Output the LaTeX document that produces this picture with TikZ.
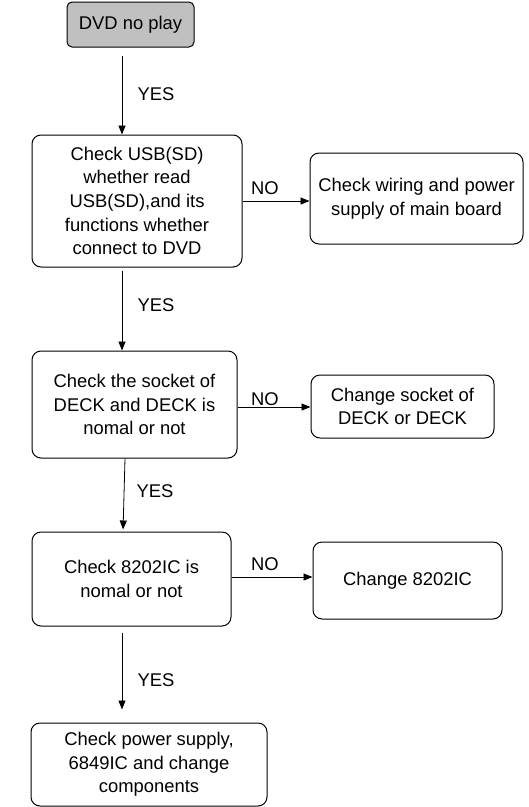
\documentclass[tikz,border=0pt]{standalone}
\usepackage{fontspec}
\setmainfont{Liberation Sans}
\usetikzlibrary{arrows.meta,calc,positioning}

\definecolor{startgray}{RGB}{192,192,192}
\tikzset{
  box/.style={draw, rounded corners=9pt, line width=1pt, align=center, inner sep=2pt,
    font=\fontsize{18.4}{23.7}\selectfont},
  flow/.style={-{Triangle[length=9pt,width=7pt]}, line width=0.8pt},
  lbl/.style={inner sep=0pt, font=\fontsize{18.4}{22}\selectfont}
}

\begin{document}
\begin{tikzpicture}[x=1pt,y=-1pt,line join=round]
\useasboundingbox (0,0) rectangle (529,807);
% boxes
\node[box,fill=startgray,rounded corners=5pt,minimum width=127pt,minimum height=45pt] (b1) at (130.5,24.5) {DVD no play};
\node[box,minimum width=210pt,minimum height=132pt] (b2) at (137,201) {Check USB(SD)\\whether read\\USB(SD),and its\\functions whether\\connect to DVD};
\node[box,minimum width=213pt,minimum height=91pt] (b3) at (416.5,198.5) {Check wiring and power\\supply of main board};
\node[box,minimum width=205pt,minimum height=107pt] (b4) at (134.5,404.5) {Check the socket of\\DECK and DECK is\\nomal or not};
\node[box,minimum width=183pt,minimum height=63pt] (b5) at (402.5,406.5) {Change socket of\\DECK or DECK};
\node[box,minimum width=199pt,minimum height=94pt] (b6) at (131.5,579) {Check 8202IC is\\nomal or not};
\node[box,minimum width=189pt,minimum height=77pt] (b7) at (407.5,580.5) {Change 8202IC};
\node[box,minimum width=236pt,minimum height=83pt] (b8) at (149,764.5) {Check power supply,\\6849IC and change\\components};
% arrows down
\coordinate (s1) at ([xshift=-8.5pt]b1.south);
\coordinate (s2) at ([xshift=-15pt]b2.south);
\coordinate (s3) at ([xshift=-9.5pt]b4.south);
\coordinate (e3) at ([xshift=-8.5pt]b6.north);
\coordinate (s4) at ([xshift=-9.5pt]b6.south);
\draw[flow,shorten <=8pt] (s1) -- (s1 |- b2.north);
\draw[flow,shorten <=3pt] (s2) -- (s2 |- b4.north);
\draw[flow,shorten >=2pt] (s3) -- (e3);
\draw[flow,shorten <=6pt,shorten >=13pt] (s4) -- (s4 |- b8.north);
% arrows right
\coordinate (n2) at (b2.east);
\coordinate (n4) at ([yshift=-2.5pt]b4.east);
\coordinate (n6) at ([yshift=2pt]b6.east);
\draw[flow] (n2) -- (n2 -| b3.west);
\draw[flow] (n4) -- (n4 -| b5.west);
\draw[flow] (n6) -- (n6 -| b7.west);
% labels
\node[lbl] (y1) at (156,94.5) {YES};
\node[lbl] (y2) at (156,305) {YES};
\node[lbl] (y3) at (155,491.5) {YES};
\node[lbl] (y4) at (156,680) {YES};
\node[lbl] (no1) at (265,188.5) {NO};
\node[lbl] (no2) at (265,399.5) {NO};
\node[lbl] (no3) at (265,564) {NO};
\end{tikzpicture}
\end{document}
